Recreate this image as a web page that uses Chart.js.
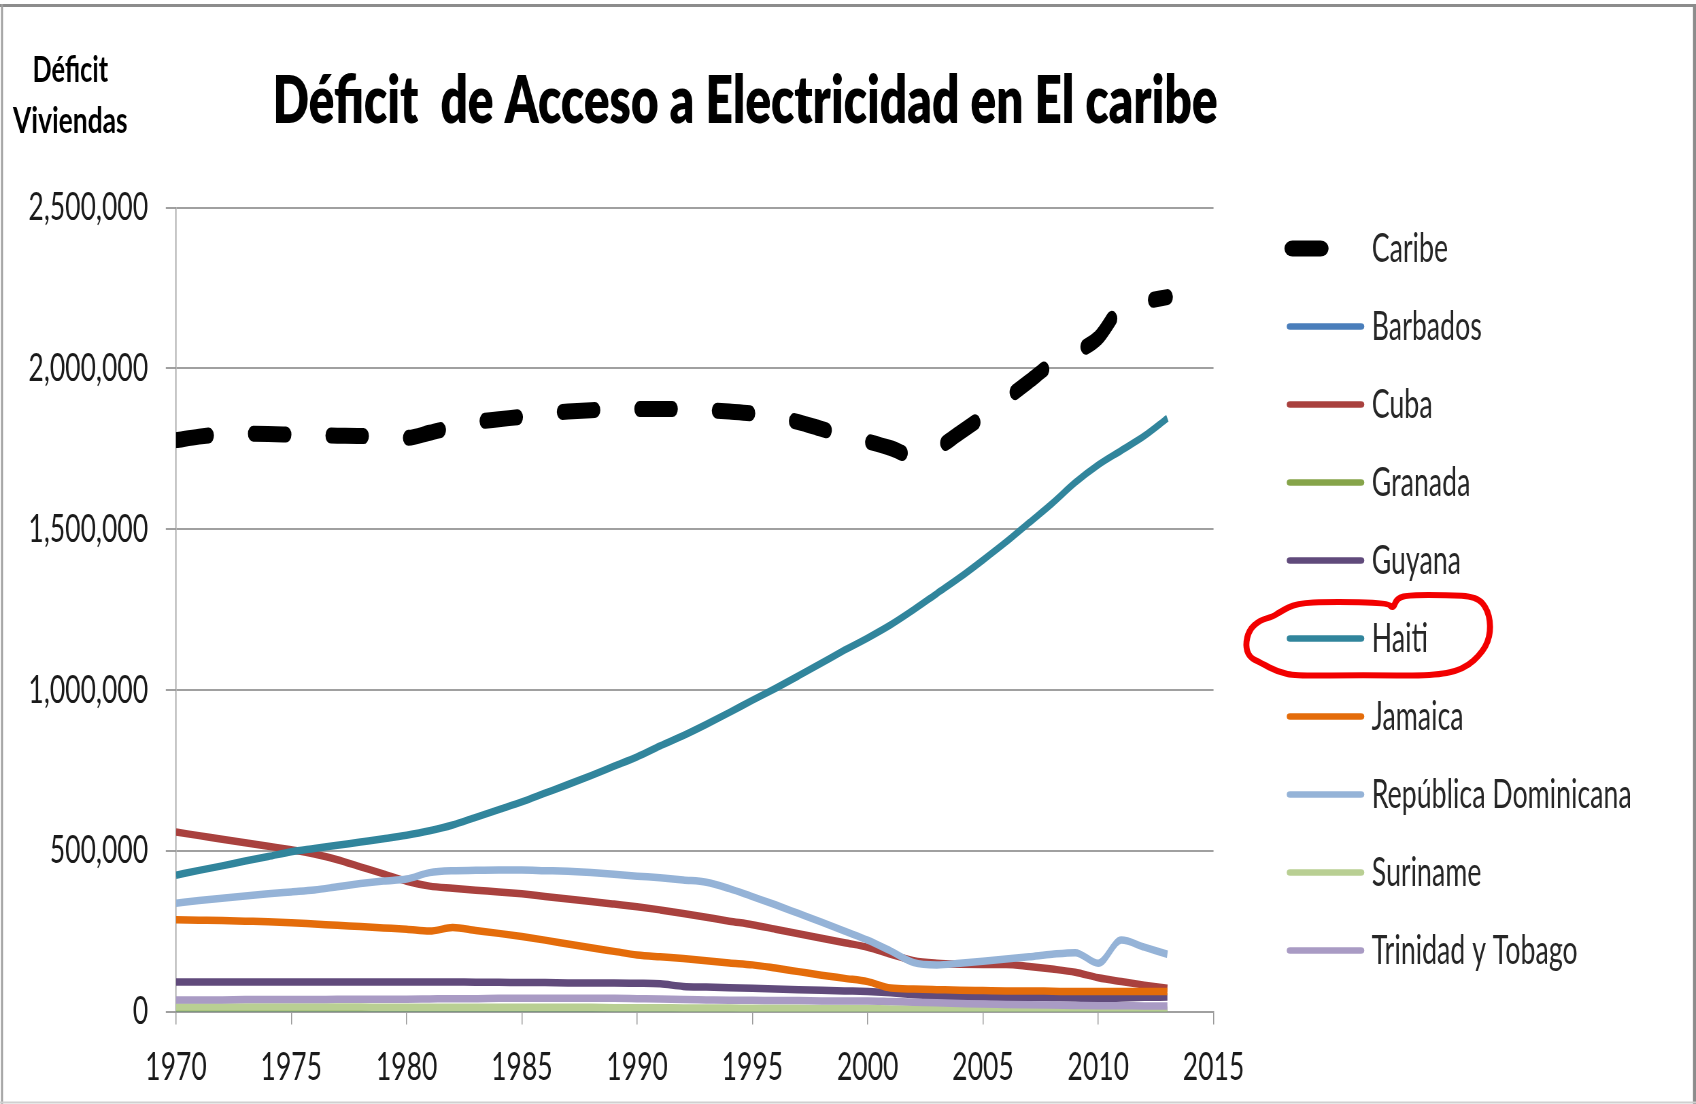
<!DOCTYPE html>
<html lang="es">
<head>
  <meta charset="UTF-8">
  <title>Déficit de Acceso a Electricidad en El caribe</title>
  <style>
    html, body { margin: 0; padding: 0; background: #fff; overflow: hidden; }
    #wrap { position: absolute; left: 0; top: 0; width: 1696px; height: 1104px; overflow: hidden; background: #fff; }
    /* the original picture is a horizontally squeezed Excel chart */
    #chart { position: absolute; left: 0; top: 0; transform-origin: 0 0; transform: scaleX(0.68); }
  </style>
</head>
<body>
  <div id="wrap"><canvas id="chart" width="2494" height="1104" style="width:2494px;height:1104px"></canvas></div>

  <script src="https://cdn.jsdelivr.net/npm/chart.js"></script>
  <script>
    const years = [1970, 1971, 1972, 1973, 1974, 1975, 1976, 1977, 1978, 1979, 1980, 1981, 1982, 1983, 1984,
      1985, 1986, 1987, 1988, 1989, 1990, 1991, 1992, 1993, 1994, 1995, 1996, 1997, 1998, 1999,
      2000, 2001, 2002, 2003, 2004, 2005, 2006, 2007, 2008, 2009, 2010, 2011, 2012, 2013];

    const caribe = [1777000, 1788000, 1795000, 1797000, 1796000, 1794000, 1792000, 1791000, 1790000, 1786000,
      1784000, 1800000, 1818000, 1833000, 1842000, 1850000, 1860000, 1866000, 1870000, 1872000,
      1874000, 1874000, 1874000, 1871000, 1866000, 1860000, 1850000, 1833000, 1812000, 1792000,
      1773000, 1752000, 1728000, 1752000, 1800000, 1850000, 1905000, 1960000, 2015000, 2050000,
      2095000, 2190000, 2208000, 2222000];
    const barbados = [2000, 2000, 2000, 2000, 2000, 2000, 2000, 2000, 2000, 2000, 2000, 1500, 1500, 1500, 1500,
      1500, 1500, 1500, 1500, 1500, 1500, 1500, 1500, 1500, 1500, 1500, 1000, 1000, 1000, 1000,
      1000, 1000, 1000, 1000, 1000, 1000, 1000, 1000, 1000, 1000, 1000, 1000, 1000, 1000];
    const cuba = [558000, 547000, 536000, 525000, 514000, 503000, 490000, 472000, 450000, 428000,
      405000, 390000, 383000, 377000, 372000, 366000, 358000, 350000, 342000, 334000,
      326000, 316000, 305000, 293000, 281000, 270000, 256000, 242000, 228000, 214000,
      200000, 178000, 158000, 150000, 147000, 146000, 146000, 140000, 132000, 122000,
      105000, 93000, 82000, 72000];
    const granada = [5000, 5000, 5000, 5000, 5000, 4000, 4000, 4000, 4000, 4000, 4000, 4000, 3000, 3000, 3000,
      3000, 3000, 3000, 3000, 3000, 3000, 3000, 2000, 2000, 2000, 2000, 2000, 2000, 2000, 2000,
      2000, 2000, 2000, 1000, 1000, 1000, 1000, 1000, 1000, 1000, 1000, 1000, 1000, 1000];
    const guyana = [92000, 92000, 92000, 92000, 92000, 92000, 92000, 92000, 92000, 92000,
      92000, 92000, 92000, 91000, 91000, 90000, 90000, 89000, 89000, 89000,
      88000, 86000, 78000, 76000, 74000, 72000, 70000, 68000, 66000, 64000,
      62000, 58000, 52000, 48000, 46000, 45000, 44000, 44000, 43000, 42000,
      40000, 42000, 44000, 45000];
    const haiti = [424000, 439000, 453000, 468000, 482000, 497000, 507000, 517000, 527000, 537000,
      548000, 562000, 580000, 604000, 628000, 652000, 679000, 706000, 734000, 763000,
      792000, 826000, 858000, 893000, 930000, 968000, 1005000, 1044000, 1084000, 1124000,
      1162000, 1203000, 1250000, 1300000, 1350000, 1404000, 1460000, 1520000, 1580000, 1645000,
      1700000, 1745000, 1790000, 1845000];
    const jamaica = [285000, 284000, 283000, 281000, 279000, 276000, 272000, 268000, 264000, 260000,
      256000, 250000, 261000, 252000, 243000, 233000, 222000, 210000, 198000, 187000,
      176000, 170000, 165000, 158000, 151000, 145000, 135000, 124000, 113000, 103000,
      93000, 73000, 70000, 68000, 66000, 65000, 64000, 64000, 63000, 62000,
      62000, 62000, 62000, 62000];
    const dominicana = [337000, 345000, 352000, 359000, 366000, 372000, 378000, 388000, 398000, 406000,
      412000, 432000, 438000, 439000, 440000, 440000, 438000, 436000, 432000, 427000,
      421000, 416000, 409000, 402000, 382000, 357000, 332000, 305000, 278000, 250000,
      222000, 188000, 152000, 145000, 150000, 156000, 163000, 170000, 178000, 183000,
      150000, 222000, 200000, 178000];
    const suriname = [14000, 14000, 14000, 14000, 14000, 14000, 14000, 14000, 14000, 13000,
      13000, 13000, 13000, 13000, 13000, 13000, 13000, 13000, 13000, 12000,
      12000, 12000, 11000, 11000, 11000, 10000, 10000, 10000, 9000, 9000,
      9000, 8000, 8000, 7000, 7000, 6000, 6000, 6000, 5000, 5000,
      5000, 5000, 5000, 5000];
    const trinidad = [36000, 36000, 36000, 37000, 37000, 37000, 37000, 38000, 38000, 38000,
      38000, 39000, 40000, 40000, 41000, 41000, 41000, 41000, 41000, 41000,
      40000, 39000, 37000, 36000, 35000, 35000, 34000, 34000, 33000, 33000,
      33000, 31000, 29000, 27000, 25000, 23000, 22000, 21000, 20000, 19000,
      18000, 18000, 17000, 17000];

    const seriesNames = ['Caribe', 'Barbados', 'Cuba', 'Granada', 'Guyana', 'Haiti', 'Jamaica',
      'República Dominicana', 'Suriname', 'Trinidad y Tobago'];
    const seriesValues = [caribe, barbados, cuba, granada, guyana, haiti, jamaica, dominicana, suriname, trinidad];
    const seriesColors = ['#000000', '#4A7EBB', '#A9413E', '#86A44A', '#604A7B', '#31859C', '#E46C0A',
      '#95B3D7', '#B9CF93', '#A99BC4'];

    const xTicks = [1970, 1975, 1980, 1985, 1990, 1995, 2000, 2005, 2010, 2015];
    const yTicks = [0, 500000, 1000000, 1500000, 2000000, 2500000];

    const SQUEEZE = 0.68;
    const W = 2494, H = 1104;
    const sx = px => px / SQUEEZE;   // screen px -> canvas px (horizontal)

    // draws text squeezed/stretched to a given on-screen width
    function fitText(ctx, text, x, y, width, align, k) {
      const scale = k || width / ctx.measureText(text).width;
      ctx.save();
      ctx.translate(x, y);
      ctx.scale(scale, 1);
      ctx.textAlign = align;
      ctx.fillText(text, 0, 0);
      ctx.restore();
    }

    const decor = {
      id: 'decor',
      afterDraw(chart) {
        const ctx = chart.ctx;
        ctx.save();
        ctx.scale(1 / SQUEEZE, 1);   // work in screen pixels

        // frame
        ctx.lineCap = 'butt';
        ctx.strokeStyle = '#8c8c8c';
        ctx.lineWidth = 3;
        ctx.beginPath(); ctx.moveTo(0, 5.5); ctx.lineTo(1696, 5.5); ctx.stroke();
        ctx.beginPath(); ctx.moveTo(1694.5, 4); ctx.lineTo(1694.5, 1104); ctx.stroke();
        ctx.strokeStyle = '#a0a0a0';
        ctx.lineWidth = 2;
        ctx.beginPath(); ctx.moveTo(2, 4); ctx.lineTo(2, 1104); ctx.stroke();
        ctx.strokeStyle = '#d0d0d0';
        ctx.beginPath(); ctx.moveTo(0, 1102.5); ctx.lineTo(1696, 1102.5); ctx.stroke();

        // title and axis caption
        ctx.fillStyle = '#000';
        ctx.textBaseline = 'alphabetic';
        ctx.font = '800 66px Lato';
        fitText(ctx, 'Déficit  de Acceso a Electricidad en El caribe', 272.6, 123, 945, 'left');
        ctx.font = 'bold 37px Lato';
        fitText(ctx, 'Déficit', 70.3, 82, 75.6, 'center');
        fitText(ctx, 'Viviendas', 70.3, 133, 114.6, 'center');

        // legend
        ctx.font = '40px Lato';
        const k = 260 / ctx.measureText('República Dominicana').width;
        chart.data.datasets.forEach((ds, i) => {
          const y = 248.5 + i * 78;
          ctx.strokeStyle = ds.borderColor;
          ctx.lineCap = 'round';
          ctx.beginPath();
          if (i === 0) {
            ctx.lineWidth = 16;
            ctx.moveTo(1292.5, y); ctx.lineTo(1320.5, y);
          } else {
            ctx.lineWidth = 6.5;
            ctx.moveTo(1290, y); ctx.lineTo(1361, y);
          }
          ctx.stroke();
          ctx.fillStyle = '#262626';
          fitText(ctx, ds.label, 1371.7, y + 13.5, 0, 'left', k);
        });

        // hand-drawn red mark around Haiti
        const loop = [[1280, 611.7], [1296.7, 603.3], [1330, 601.7], [1388, 602.7], [1393, 609], [1397, 598],
          [1410, 595], [1446.7, 595], [1476.7, 596.7], [1488.3, 610], [1491, 632], [1484, 651],
          [1463.3, 670], [1430, 676], [1363.3, 675], [1296.7, 676], [1278, 672], [1261, 663],
          [1249, 657], [1245.5, 645], [1249, 630], [1260, 620], [1273.3, 616.7]];
        const mid = (a, b) => [(a[0] + b[0]) / 2, (a[1] + b[1]) / 2];
        ctx.strokeStyle = '#f20000';
        ctx.lineWidth = 6;
        ctx.lineJoin = 'round';
        ctx.beginPath();
        let m = mid(loop[loop.length - 1], loop[0]);
        ctx.moveTo(m[0], m[1]);
        loop.forEach((p, i) => {
          const q = mid(p, loop[(i + 1) % loop.length]);
          ctx.quadraticCurveTo(p[0], p[1], q[0], q[1]);
        });
        ctx.closePath();
        ctx.stroke();

        ctx.restore();
      }
    };

    new Chart(document.getElementById('chart'), {
      type: 'line',
      data: {
        datasets: seriesNames.map((name, i) => ({
          label: name,
          data: years.map((yr, j) => ({ x: yr, y: seriesValues[i][j] })),
          borderColor: seriesColors[i],
          borderWidth: i === 0 ? 16 : 7.5,
          borderDash: i === 0 ? [48, 66] : [],
          borderCapStyle: i === 0 ? 'round' : 'butt',
          pointRadius: 0,
          cubicInterpolationMode: 'monotone',
          fill: false,
          clip: 0,
          order: seriesNames.length - i
        }))
      },
      options: {
        responsive: false,
        animation: false,
        devicePixelRatio: 1,
        layout: {
          padding: { left: 0, top: 207.7, right: W - sx(1213.5), bottom: H - 1011.5 - 80 }
        },
        plugins: {
          legend: { display: false },
          tooltip: { enabled: false },
          title: { display: false }
        },
        scales: {
          x: {
            type: 'linear',
            min: xTicks[0],
            max: xTicks[xTicks.length - 1],
            afterFit: s => { s.height = 80; },
            afterBuildTicks: s => { s.ticks = xTicks.map(v => ({ value: v })); },
            ticks: {
              callback: v => String(v),
              autoSkip: false,
              maxRotation: 0,
              padding: 20,
              color: '#1a1a1a',
              font: { family: 'Lato', size: 39 }
            },
            grid: { drawOnChartArea: false, drawTicks: true, tickLength: 13, color: '#9a9a9a', lineWidth: 1.5 },
            border: { display: true, color: '#a0a0a0', width: 2 }
          },
          y: {
            min: yTicks[0],
            max: yTicks[yTicks.length - 1],
            afterFit: s => { s.width = sx(176); },
            afterBuildTicks: s => { s.ticks = yTicks.map(v => ({ value: v })); },
            ticks: {
              callback: v => v.toLocaleString('en-US'),
              padding: 26,
              color: '#1a1a1a',
              font: { family: 'Lato', size: 39 }
            },
            grid: { color: '#a0a0a0', lineWidth: 2, tickLength: 15 },
            border: { display: true, color: '#9a9a9a', width: 1.5 }
          }
        }
      },
      plugins: [decor]
    });
  </script>
</body>
</html>
